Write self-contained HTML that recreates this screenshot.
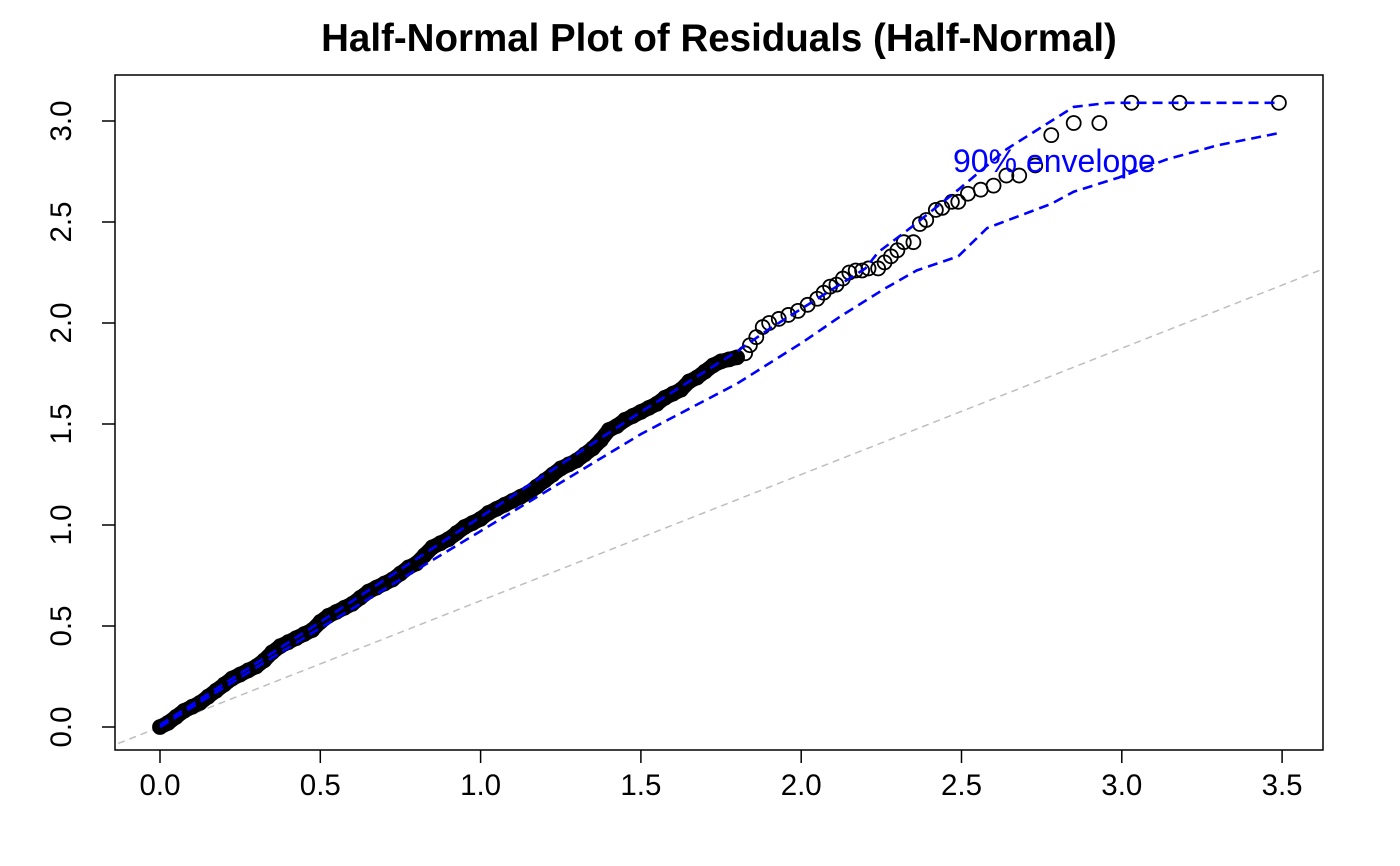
<!DOCTYPE html>
<html><head><meta charset="utf-8"><style>
html,body{margin:0;padding:0;background:#fff}
svg{display:block;font-family:"Liberation Sans",sans-serif}
</style></head><body>
<svg id="chart" width="1400" height="866" viewBox="0 0 1400 866">
<defs><clipPath id="clip"><rect x="115" y="75" width="1208" height="675"/></clipPath></defs>
<text x="719" y="51" text-anchor="middle" font-size="38.5" font-weight="bold">Half-Normal Plot of Residuals (Half-Normal)</text>
<rect x="115" y="75" width="1208" height="675" fill="none" stroke="#000" stroke-width="1.5"/>
<g id="axes"></g>
<g id="marks" clip-path="url(#clip)"></g>
<text x="953" y="172" font-size="32" fill="#0000ff">90% envelope</text>
</svg>
<script>
const xTicks=[0,0.5,1,1.5,2,2.5,3,3.5];
const xTickLabels=["0.0","0.5","1.0","1.5","2.0","2.5","3.0","3.5"];
const yTicks=[0,0.5,1,1.5,2,2.5,3];
const yTickLabels=["0.0","0.5","1.0","1.5","2.0","2.5","3.0"];
const pointX=[0,0.025,0.05,0.075,0.1,0.125,0.15,0.175,0.2,0.225,0.25,0.275,0.3,0.325,0.35,0.375,0.4,0.425,0.45,0.475,0.5,0.525,0.55,0.575,0.6,0.625,0.65,0.675,0.7,0.725,0.75,0.775,0.8,0.825,0.85,0.875,0.9,0.925,0.95,0.975,1.0,1.025,1.05,1.075,1.1,1.125,1.15,1.175,1.2,1.225,1.25,1.275,1.3,1.325,1.35,1.375,1.4,1.425,1.45,1.475,1.5,1.525,1.55,1.575,1.6,1.625,1.65,1.675,1.7,1.725,1.75,1.775,1.8,1.825,1.84,1.86,1.88,1.9,1.93,1.96,1.99,2.02,2.05,2.07,2.09,2.11,2.13,2.15,2.17,2.19,2.21,2.24,2.26,2.28,2.3,2.32,2.35,2.37,2.39,2.42,2.44,2.47,2.49,2.52,2.56,2.6,2.64,2.68,2.73,2.78,2.85,2.93,3.03,3.18,3.49];
const pointY=[0,0.02,0.05,0.08,0.1,0.12,0.15,0.18,0.21,0.24,0.26,0.28,0.3,0.33,0.37,0.4,0.42,0.44,0.46,0.48,0.52,0.55,0.57,0.59,0.61,0.64,0.67,0.69,0.71,0.73,0.76,0.79,0.81,0.85,0.89,0.91,0.93,0.96,0.99,1.01,1.03,1.06,1.08,1.1,1.12,1.14,1.16,1.19,1.22,1.25,1.28,1.3,1.32,1.35,1.38,1.42,1.47,1.49,1.52,1.54,1.56,1.58,1.6,1.63,1.65,1.67,1.71,1.73,1.76,1.79,1.81,1.82,1.83,1.85,1.89,1.93,1.98,2.0,2.02,2.04,2.06,2.09,2.12,2.15,2.18,2.19,2.22,2.25,2.26,2.26,2.27,2.27,2.3,2.33,2.36,2.4,2.4,2.49,2.51,2.56,2.57,2.6,2.6,2.64,2.66,2.68,2.73,2.73,2.78,2.93,2.99,2.99,3.09,3.09,3.09];
const upperX=[0,0.5,1.0,1.5,1.8,1.9,2.0,2.1,2.2,2.24,2.34,2.49,2.64,2.74,2.85,2.96,3.49];
const upperY=[0.01,0.52,1.04,1.56,1.86,1.97,2.07,2.17,2.27,2.35,2.47,2.66,2.86,2.96,3.07,3.09,3.09];
const lowerX=[0,0.5,1.0,1.5,1.8,2.0,2.12,2.26,2.36,2.49,2.58,2.78,2.85,2.99,3.14,3.3,3.49];
const lowerY=[0,0.49,0.97,1.45,1.7,1.9,2.03,2.17,2.26,2.33,2.47,2.59,2.65,2.72,2.81,2.88,2.94];
const refSlope=[0.625];

const NS="http://www.w3.org/2000/svg";
const sx=v=>160+v*320.6;
const sy=v=>727-v*202;
const axes=document.getElementById('axes'), marks=document.getElementById('marks');
function mk(tag,attrs,parent){const e=document.createElementNS(NS,tag);for(const k in attrs)e.setAttribute(k,attrs[k]);parent.appendChild(e);return e;}

xTicks.forEach((t,i)=>{
  const l=mk('line',{x1:sx(t),x2:sx(t),y1:750,y2:763,stroke:'#000','stroke-width':1.5},axes);
  
  
  const tx=mk('text',{x:sx(t),y:795,'text-anchor':'middle','font-size':29.5},axes);
  tx.textContent=xTickLabels[i];
  
  
});
yTicks.forEach((t,i)=>{
  const l=mk('line',{x1:102,x2:115,y1:sy(t),y2:sy(t),stroke:'#000','stroke-width':1.5},axes);
  
  
  const tx=mk('text',{x:0,y:0,'text-anchor':'middle','font-size':29.5,transform:`translate(71,${sy(t)}) rotate(-90)`},axes);
  tx.textContent=yTickLabels[i];
  
  
});

const ref=mk('line',{x1:sx(-0.2),y1:sy(-0.2*refSlope[0]),x2:sx(3.8),y2:sy(3.8*refSlope[0]),stroke:'#bebebe','stroke-width':1.5,'stroke-dasharray':'7,5'},marks);



// dense band: overlapping points drawn as thick black stroke through them
const denseIdx=pointX.map((x,i)=>i).filter(i=>pointX[i]<1.82);
const band=mk('path',{d:denseIdx.map((i,k)=>(k?'L':'M')+sx(pointX[i]).toFixed(1)+','+sy(pointY[i]).toFixed(1)).join(' '),fill:'none',stroke:'#000','stroke-width':15,'stroke-linecap':'round','stroke-linejoin':'round'},marks);



pointX.forEach((x,i)=>{
  const c=mk('circle',{cx:sx(x),cy:sy(pointY[i]),r:7,fill:'none',stroke:'#000','stroke-width':1.8},marks);
  
  
});

function envPath(xs,ys){return xs.map((x,i)=>(i?'L':'M')+sx(x).toFixed(1)+','+sy(ys[i]).toFixed(1)).join(' ');}
const up=mk('path',{d:envPath(upperX,upperY),fill:'none',stroke:'#0000ff','stroke-width':2.6,'stroke-dasharray':'10,6'},marks);


const lo=mk('path',{d:envPath(lowerX,lowerY),fill:'none',stroke:'#0000ff','stroke-width':2.6,'stroke-dasharray':'10,6'},marks);


</script>
</body></html>
